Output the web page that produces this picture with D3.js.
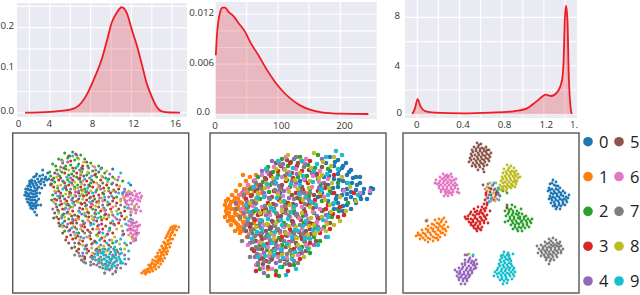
<!DOCTYPE html>
<html>
<head>
<meta charset="utf-8">
<script src="https://cdnjs.cloudflare.com/ajax/libs/d3/7.8.5/d3.min.js"></script>
<style>
body { margin: 0; background: #fff; }
svg { display: block; }
text { font-family: "Open Sans", sans-serif; fill: #333; }
</style>
</head>
<body>
<div id="chart"></div>
<script>
const classNames = ['0', '1', '2', '3', '4', '5', '6', '7', '8', '9'];
const classColors = ['#1f77b4', '#ff7f0e', '#2ca02c', '#d62728', '#9467bd', '#8c564b', '#e377c2', '#7f7f7f', '#bcbd22', '#17becf'];

// density curves
const curveAx = [1.57, 4.02, 6.01, 6.8, 7.61, 8.43, 9.08, 9.58, 10.07, 10.56, 11.05, 11.54, 12.03, 12.52, 13, 13.5, 13.99, 14.48, 14.97, 15.78, 16.76];
const curveAy = [0, 0.002, 0.007, 0.016, 0.042, 0.085, 0.125, 0.168, 0.212, 0.235, 0.248, 0.235, 0.196, 0.159, 0.116, 0.069, 0.038, 0.014, 0.003, 0.0005, 0];
const curveBx = [0.5, 2.1, 4.8, 7.5, 11.2, 15.5, 20.8, 28.8, 36.8, 47.5, 55.5, 68.8, 82.2, 95.5, 108.9, 122.2, 135.5, 151.5, 170.2, 199.6, 244.9];
const curveBy = [0.00707, 0.00928, 0.01129, 0.01229, 0.01281, 0.01281, 0.01229, 0.01177, 0.01096, 0.00988, 0.00868, 0.00707, 0.00534, 0.00386, 0.00265, 0.00173, 0.00104, 0.00052, 0.0002, 0.00004, 0];
const curveCx = [-0.048, -0.022, 0.003, 0.032, 0.073, 0.168, 0.437, 0.691, 0.913, 1.04, 1.135, 1.22, 1.268, 1.325, 1.372, 1.388, 1.398, 1.41, 1.423, 1.436, 1.452, 1.464];
const curveCy = [0.03, 0.49, 1.26, 0.63, 0.27, 0.14, 0.08, 0.14, 0.25, 0.49, 1.1, 1.62, 1.51, 1.81, 2.83, 4.75, 7.77, 8.96, 7.77, 3.1, 0.63, 0.03];

const gridAx = [2, 4, 6, 8, 10, 12, 14, 16];
const gridAy = [0, 0.05, 0.1, 0.15, 0.2, 0.25];
const gridBx = [50, 100, 150, 200];
const gridBy = [0, 0.002, 0.004, 0.006, 0.008, 0.01, 0.012];
const gridCx = [0, 0.2, 0.4, 0.6, 0.8, 1, 1.2, 1.4];
const gridCy = [0, 2, 4, 6, 8];

const ticksAx = [0, 4, 8, 12, 16];
const ticksAy = [0, 0.1, 0.2];
const ticksBx = [0, 100, 200];
const ticksBy = [0, 0.006, 0.012];
const ticksCx = [0, 0.4, 0.8, 1.2, 1.6];
const ticksCy = [0, 4, 8];
const labelsAx = ['0', '4', '8', '12', '16'];
const labelsAy = ['0.0', '0.1', '0.2'];
const labelsBx = ['0', '100', '200'];
const labelsBy = ['0.0', '0.006', '0.012'];
const labelsCx = ['0', '0.4', '0.8', '1.2', '1.'];
const labelsCy = ['0', '4', '8'];

// embedding points, left panel
const a0 = [[24,41],[27,43],[30,42],[33,44],[21,44],[25,46],[29,46],[34,47],[19,47],[22,48],[26,49],[31,49],[36,46],[17,50],[20,51],[24,52],[28,51],[15,53],[18,54],[22,55],[26,54],[13,56],[16,57],[20,58],[24,57],[14,60],[18,60],[22,61],[12,62],[16,63],[20,64],[24,63],[14,66],[18,67],[22,67],[15,69],[19,70],[23,70],[17,72],[21,73],[25,72],[20,76],[23,75],[18,75],[27,60],[29,55],[32,52],[26,66],[22,79],[28,72],[38,51],[24,82],[17,48],[35,40],[30,37],[110,60],[118,52],[100,36],[23,43],[28,48],[32,46],[19,49],[23,50],[17,52],[21,53],[25,55],[15,56],[18,57],[22,58],[13,59],[16,61],[20,61],[24,60],[14,63],[18,64],[22,64],[16,66],[20,67],[24,68],[17,70],[21,71],[19,73],[23,73]];
const a1 = [[129,140],[133,141],[137,139],[131,138],[135,136],[140,138],[138,134],[143,136],[141,131],[146,134],[136,132],[144,129],[148,131],[140,127],[146,126],[150,128],[143,124],[148,123],[152,125],[145,120],[150,119],[154,121],[147,117],[152,116],[155,118],[149,113],[153,112],[157,114],[151,109],[155,108],[158,110],[153,105],[157,104],[160,106],[155,101],[159,100],[162,102],[157,97],[161,96],[164,97],[159,94],[163,93],[166,94],[142,133],[147,128],[151,122],[154,115],[156,111],[158,106],[160,99],[149,126],[139,130],[134,139],[145,123],[153,119],[162,95],[132,140],[136,138],[139,136],[133,137],[137,135],[141,134],[143,132],[145,130],[138,132],[147,125],[142,128],[149,121],[145,127],[151,117],[148,119],[153,114],[150,115],[155,111],[152,110],[156,107],[154,103],[158,102],[156,99],[160,97],[158,95],[161,93]];
const a2 = [[52,20],[60,19],[68,22],[46,26],[55,25],[62,27],[72,26],[40,31],[50,30],[58,32],[66,31],[78,30],[86,33],[44,37],[53,36],[61,38],[70,36],[80,38],[92,40],[38,43],[47,43],[56,42],[64,44],[74,42],[84,44],[100,44],[42,49],[50,48],[59,50],[68,49],[78,50],[90,50],[110,48],[45,55],[54,57],[62,54],[72,56],[84,57],[96,55],[40,62],[50,63],[60,65],[70,62],[82,66],[104,64],[47,72],[58,74],[68,70],[80,76],[95,72],[44,84],[56,86],[70,88],[88,84],[108,80],[52,98],[66,100],[84,102],[62,114],[100,110],[57,23],[65,25],[49,27],[43,33],[53,33],[63,35],[75,33],[37,39],[49,39],[59,41],[69,39],[83,41],[41,45],[55,47],[67,46],[79,47],[93,45],[39,51],[53,53],[65,52],[77,53],[99,51],[43,59],[57,61],[73,59],[91,61],[39,67],[55,71],[73,73],[91,75],[51,81],[65,83],[83,81],[47,93],[77,99],[97,95]];
const a3 = [[58,28],[70,33],[52,40],[64,40],[82,42],[46,47],[60,47],[74,48],[88,47],[41,54],[56,52],[68,54],[80,54],[94,52],[106,56],[48,60],[58,60],[66,60],[76,60],[86,62],[98,60],[114,62],[44,67],[54,68],[64,68],[74,67],[84,69],[92,67],[104,70],[50,76],[60,78],[70,76],[78,74],[88,78],[98,76],[112,78],[46,86],[58,90],[66,84],[76,84],[84,88],[94,86],[106,90],[54,104],[62,94],[72,94],[80,96],[90,96],[100,100],[118,96],[60,106],[70,108],[78,106],[92,108],[66,116],[76,118],[84,116],[72,124],[108,116],[67,45],[81,49],[91,55],[53,55],[71,63],[63,63],[81,63],[101,65],[49,71],[69,71],[79,71],[97,71],[55,79],[75,79],[93,81],[109,83],[63,87],[71,91],[89,91],[101,91],[57,97],[75,97],[85,93],[95,101],[65,103],[83,109],[73,113],[89,105],[79,123],[111,101]];
const a4 = [[64,22],[48,34],[76,35],[90,44],[40,47],[58,45],[72,52],[100,50],[52,54],[66,58],[88,56],[112,56],[43,60],[56,64],[78,64],[96,64],[120,68],[48,68],[62,72],[74,72],[90,72],[108,72],[40,76],[54,80],[66,78],[82,80],[100,82],[118,82],[48,92],[60,86],[72,90],[86,92],[102,92],[120,90],[56,98],[68,104],[78,100],[94,102],[110,102],[124,100],[62,110],[74,112],[88,112],[104,108],[118,110],[70,120],[80,124],[90,120],[100,122],[112,122],[78,132],[86,130],[96,136],[108,130],[116,126],[92,140],[103,138],[55,29],[67,37],[83,37],[45,41],[61,43],[97,41],[51,49],[77,45],[105,47],[47,63],[63,59],[83,59],[103,59],[117,61],[43,71],[59,67],[87,65],[113,69],[49,85],[69,81],[93,77],[123,77],[55,91],[81,87],[107,87],[125,93],[61,99],[87,99],[115,97],[67,111],[97,107],[123,107],[83,117],[105,119],[93,131],[113,131]];
const a5 = [[56,23],[74,29],[42,40],[60,35],[86,39],[48,45],[66,46],[96,46],[38,52],[52,50],[76,52],[104,52],[46,58],[62,56],[74,62],[90,60],[42,66],[52,66],[66,66],[80,68],[100,68],[44,74],[56,72],[72,70],[86,74],[106,76],[42,80],[50,82],[62,82],[76,80],[92,82],[46,90],[54,94],[64,90],[78,90],[98,90],[112,86],[50,100],[58,102],[70,98],[86,100],[56,110],[66,110],[82,108],[96,112],[64,118],[74,116],[60,90],[52,88],[72,126],[63,21],[51,35],[69,35],[89,35],[39,47],[71,43],[87,53],[57,59],[69,57],[101,57],[47,65],[61,69],[77,65],[45,77],[67,75],[83,77],[41,85],[59,83],[73,83],[89,87],[51,93],[69,93],[93,93],[53,107],[63,105],[77,103],[59,115],[79,111],[69,127],[87,117]];
const a6 = [[112,58],[117,59],[122,58],[127,60],[110,62],[115,63],[120,62],[125,64],[129,63],[112,67],[117,67],[122,66],[127,68],[114,71],[119,71],[124,71],[116,75],[121,76],[126,74],[118,79],[123,80],[128,78],[116,88],[120,87],[124,89],[115,92],[119,92],[123,93],[127,92],[116,96],[120,97],[124,97],[118,100],[122,101],[126,100],[119,104],[123,105],[121,108],[50,28],[82,34],[62,62],[90,68],[76,88],[56,76],[100,74],[68,92],[96,98],[108,66],[106,44],[86,52],[114,60],[119,60],[124,61],[112,64],[118,65],[123,63],[128,65],[114,68],[120,68],[125,67],[116,72],[122,73],[118,76],[124,77],[118,89],[122,90],[117,93],[121,94],[125,94],[118,97],[122,98],[120,102],[124,102],[121,105],[70,48],[60,52],[80,72],[66,86],[86,96],[102,84],[92,78],[74,104]];
const a7 = [[66,120],[70,123],[74,120],[69,127],[73,130],[78,124],[82,121],[87,118],[92,116],[98,114],[104,117],[78,129],[83,127],[88,124],[93,122],[98,119],[103,122],[107,121],[84,132],[89,130],[94,128],[99,126],[104,127],[90,135],[95,133],[100,131],[105,132],[97,137],[103,139],[108,135],[92,140],[100,141],[60,88],[72,100],[88,106],[54,72],[68,42],[96,82],[80,110],[110,98],[46,78],[74,58],[114,112],[62,122],[85,120],[90,119],[95,117],[101,116],[80,126],[86,126],[91,126],[96,124],[101,124],[81,131],[87,128],[92,131],[97,130],[102,129],[87,134],[93,136],[99,135],[104,135],[67,123],[71,129],[52,76],[64,96],[82,84],[104,86],[86,68],[58,56],[76,40],[96,58],[112,74]];
const a8 = [[66,26],[80,33],[56,37],[68,40],[94,38],[44,44],[62,49],[84,50],[102,46],[48,52],[70,58],[92,58],[116,58],[42,58],[58,62],[78,58],[100,58],[52,70],[70,66],[86,70],[108,68],[122,74],[46,80],[60,74],[72,80],[90,76],[104,78],[52,84],[64,86],[80,86],[96,84],[114,84],[50,94],[68,96],[84,96],[104,96],[62,102],[76,104],[92,104],[116,102],[70,112],[86,114],[102,104],[80,120],[94,118],[112,116],[120,106],[88,128],[74,76],[62,56],[71,29],[47,37],[75,39],[89,43],[55,45],[69,51],[95,49],[45,53],[65,55],[85,55],[107,53],[53,61],[69,61],[89,65],[111,65],[41,69],[65,69],[83,73],[103,73],[57,81],[79,83],[99,79],[119,79],[61,93],[75,87],[91,85],[109,93],[67,107],[85,103],[99,107],[79,115],[91,113],[107,111]];
const a9 = [[60,23],[88,36],[54,44],[72,46],[108,40],[50,56],[80,60],[116,50],[92,64],[60,70],[106,60],[72,82],[86,80],[50,90],[100,88],[78,92],[118,86],[64,100],[90,100],[108,106],[72,116],[84,110],[94,110],[102,114],[112,110],[84,118],[90,116],[96,116],[102,118],[108,116],[116,118],[82,124],[88,120],[94,124],[100,124],[106,124],[112,126],[86,128],[92,126],[98,128],[104,128],[110,130],[90,132],[96,132],[102,133],[108,128],[94,136],[65,33],[79,43],[57,49],[95,47],[75,55],[45,63],[67,63],[99,63],[111,59],[53,75],[77,69],[95,69],[115,75],[49,83],[67,79],[85,85],[105,81],[59,95],[81,91],[113,91],[71,105],[97,97],[87,107],[103,109],[91,119],[97,121],[103,120],[109,120],[85,122],[91,122],[97,126],[103,125],[89,127],[95,129],[101,130],[107,126],[93,134],[99,133]];
const pointsA = [a0, a1, a2, a3, a4, a5, a6, a7, a8, a9];

// embedding points, middle panel
const b0 = [[120,24],[128,27],[136,30],[116,30],[124,33],[132,35],[141,37],[120,38],[128,41],[137,42],[146,44],[114,44],[124,46],[133,48],[142,50],[150,50],[118,52],[128,54],[137,56],[146,57],[154,56],[160,60],[163,56],[112,60],[122,60],[132,62],[141,64],[150,63],[157,66],[118,68],[128,70],[137,72],[146,70],[124,76],[133,78],[141,76],[120,80],[70,60],[90,48],[84,80],[100,70],[108,64],[60,96],[104,36],[110,54],[126,66],[136,66],[150,44],[125,29],[133,33],[129,37],[139,39],[143,45],[119,43],[129,47],[137,50],[147,52],[123,55],[133,57],[141,59],[153,60],[161,55],[127,63],[137,61],[145,67],[151,66],[123,71],[133,73],[129,78]];
const b1 = [[15,72],[16,78],[15,84],[18,66],[20,72],[19,80],[18,88],[22,62],[24,68],[24,76],[23,84],[21,92],[26,58],[28,66],[28,73],[27,82],[26,90],[25,98],[30,52],[32,60],[32,70],[31,78],[30,86],[30,94],[36,48],[36,56],[36,66],[36,76],[35,84],[34,92],[40,44],[42,54],[41,62],[40,72],[40,82],[46,42],[46,52],[46,66],[44,90],[30,100],[37,104],[48,122],[58,136],[70,100],[96,60],[76,72],[52,60],[16,68],[20,84],[33,42],[17,75],[17,81],[21,69],[21,76],[21,87],[25,65],[26,71],[25,80],[24,88],[29,62],[30,69],[29,76],[29,83],[28,92],[34,56],[34,64],[34,73],[33,81],[33,89],[38,52],[38,60],[38,70],[38,79],[37,88],[44,48],[44,58],[44,70],[43,80],[28,96],[32,98]];
const b2 = [[72,26],[90,24],[108,22],[58,34],[78,33],[98,32],[118,36],[48,44],[68,42],[88,44],[108,46],[128,50],[40,56],[60,52],[80,54],[100,56],[120,58],[138,70],[50,66],[70,64],[90,66],[112,68],[128,76],[44,78],[64,76],[84,78],[104,80],[122,84],[52,88],[74,90],[94,90],[114,94],[42,100],[62,100],[84,102],[104,104],[50,112],[72,112],[92,114],[110,108],[60,124],[82,122],[100,120],[50,136],[66,138],[72,134],[84,132],[58,143],[81,29],[63,39],[105,35],[53,49],[77,47],[97,43],[59,59],[89,57],[111,51],[45,71],[75,69],[99,63],[57,81],[93,83],[113,77],[47,93],[83,91],[105,95],[69,105],[95,109],[57,117],[77,127],[69,143]];
const b3 = [[80,30],[100,28],[68,38],[92,38],[124,42],[56,46],[76,48],[98,50],[144,60],[46,58],[64,58],[86,60],[108,58],[130,74],[36,66],[58,70],[78,70],[98,72],[116,76],[134,82],[48,82],[68,84],[88,84],[108,86],[40,94],[60,94],[80,96],[100,96],[120,96],[52,106],[72,104],[92,106],[110,100],[44,118],[64,116],[84,116],[100,110],[56,128],[74,126],[90,126],[46,138],[66,142],[78,138],[118,72],[128,84],[124,60],[71,33],[87,33],[61,43],[83,45],[107,41],[51,53],[71,55],[93,57],[115,55],[41,63],[69,67],[91,69],[105,67],[53,77],[73,79],[95,79],[123,81],[45,87],[63,89],[83,89],[103,91],[47,101],[67,97],[89,99],[57,111],[79,109],[97,113],[69,121],[53,125]];
const b4 = [[62,28],[84,26],[112,26],[52,38],[74,36],[102,40],[44,48],[64,48],[86,50],[114,50],[34,58],[54,60],[74,58],[94,60],[26,70],[46,70],[66,72],[86,72],[106,74],[34,80],[56,82],[76,80],[96,82],[116,82],[38,90],[64,92],[84,92],[106,92],[48,100],[70,98],[94,100],[116,104],[40,110],[60,110],[82,108],[104,112],[54,120],[72,120],[92,120],[48,130],[66,130],[84,128],[54,140],[73,31],[95,31],[59,41],[87,41],[49,55],[69,53],[91,55],[109,55],[37,69],[59,65],[79,65],[99,67],[41,79],[67,81],[87,81],[107,83],[49,93],[73,93],[97,91],[55,105],[77,103],[99,105],[47,115],[67,115],[87,113],[61,127],[79,131],[45,124]];
const b5 = [[66,30],[88,30],[112,34],[60,40],[82,40],[106,42],[50,52],[72,52],[92,54],[116,52],[42,62],[62,64],[82,62],[104,62],[38,74],[56,76],[76,76],[94,76],[112,78],[44,86],[62,88],[82,88],[100,90],[120,90],[36,98],[56,98],[76,102],[96,98],[46,108],[66,108],[86,110],[106,108],[52,116],[76,114],[96,118],[62,126],[80,132],[50,126],[42,116],[58,134],[77,27],[99,37],[55,45],[75,43],[95,47],[47,57],[67,59],[87,65],[111,63],[43,69],[63,71],[83,71],[103,75],[51,81],[71,83],[91,87],[109,85],[41,91],[61,95],[81,99],[101,101],[51,103],[71,107],[91,103],[57,113],[81,117],[67,121],[89,121],[53,131]];
const b6 = [[76,24],[96,26],[64,34],[86,36],[110,38],[52,42],[72,44],[94,46],[118,46],[38,52],[58,54],[78,56],[102,54],[134,58],[30,62],[48,62],[68,60],[90,62],[114,64],[32,76],[52,74],[72,74],[92,74],[110,76],[40,84],[60,82],[80,84],[98,86],[116,88],[34,94],[54,92],[74,94],[92,96],[112,96],[44,104],[64,102],[86,104],[104,100],[38,112],[58,114],[78,110],[96,112],[50,122],[68,124],[88,122],[46,132],[62,136],[150,60],[160,58],[69,29],[93,29],[57,39],[79,39],[103,43],[45,47],[65,51],[85,53],[109,49],[35,59],[55,63],[73,63],[95,65],[43,73],[63,77],[83,75],[103,79],[49,87],[69,87],[89,85],[107,89],[39,101],[59,105],[79,101],[97,103],[49,109],[69,113],[89,115],[59,123],[77,125],[53,135]];
const b7 = [[86,24],[70,32],[94,34],[46,50],[62,50],[82,48],[34,62],[52,56],[70,56],[100,60],[26,76],[42,68],[60,66],[84,66],[104,70],[30,84],[48,78],[66,80],[86,82],[34,96],[50,90],[68,88],[90,92],[108,94],[38,104],[56,104],[74,108],[94,108],[32,108],[46,114],[62,118],[80,118],[40,124],[54,128],[70,128],[88,130],[48,116],[60,108],[36,92],[44,96],[52,100],[68,96],[76,92],[84,100],[66,112],[58,92],[48,132],[57,37],[77,41],[43,55],[65,57],[91,59],[37,75],[55,73],[75,73],[95,71],[41,83],[59,79],[79,83],[41,97],[57,101],[75,99],[93,101],[45,103],[63,107],[83,107],[53,113],[71,117],[91,117],[47,121],[63,123],[77,121],[59,129],[75,131],[43,109],[51,95],[65,93]];
const b8 = [[78,22],[104,20],[124,24],[66,36],[90,40],[112,42],[132,44],[56,50],[76,46],[100,48],[122,50],[140,54],[48,60],[68,62],[88,56],[110,60],[130,64],[146,68],[40,70],[60,72],[80,72],[100,74],[120,72],[136,78],[50,80],[72,78],[92,80],[112,84],[130,88],[46,94],[66,90],[86,94],[104,92],[124,92],[52,110],[76,100],[98,102],[116,98],[64,106],[88,112],[108,98],[72,122],[94,124],[60,120],[91,27],[113,29],[75,37],[101,35],[121,33],[63,45],[85,47],[109,45],[55,55],[79,59],[99,55],[119,55],[47,67],[71,69],[93,67],[115,67],[55,79],[79,79],[101,85],[121,79],[57,91],[79,93],[99,93],[117,91],[61,101],[87,105],[105,101],[79,113],[99,115],[83,123]];
const b9 = [[68,28],[92,28],[116,24],[126,18],[132,22],[56,36],[80,42],[104,38],[128,36],[44,54],[66,50],[90,52],[112,56],[138,50],[36,72],[54,64],[74,68],[96,64],[118,62],[148,62],[46,76],[64,78],[84,74],[106,72],[124,70],[38,86],[58,86],[78,86],[96,88],[118,84],[52,96],[72,92],[88,98],[108,96],[42,106],[62,110],[82,104],[100,106],[118,104],[54,112],[72,116],[90,116],[108,112],[48,124],[64,122],[82,126],[98,116],[70,134],[86,136],[76,142],[83,35],[107,31],[67,45],[93,43],[117,41],[57,51],[81,51],[103,49],[47,65],[67,65],[89,61],[111,57],[39,79],[61,75],[81,79],[101,69],[51,87],[71,87],[93,93],[113,87],[47,99],[65,99],[85,97],[103,97],[59,103],[77,111],[95,105],[65,117],[85,119],[55,123],[73,125]];
const pointsB = [b0, b1, b2, b3, b4, b5, b6, b7, b8, b9];

// embedding points, right panel
const c0 = [[150,47],[153,49],[147,51],[151,52],[155,53],[146,55],[149,56],[153,56],[157,55],[160,58],[145,58],[148,60],[152,60],[156,59],[162,60],[147,63],[150,64],[154,63],[158,62],[163,64],[146,66],[149,67],[153,67],[157,66],[161,66],[165,65],[148,70],[152,71],[156,70],[160,69],[164,69],[150,73],[154,74],[158,73],[162,72],[153,76],[157,76],[166,62],[149,50],[153,53],[147,57],[151,58],[155,57],[150,61],[154,61],[158,60],[148,65],[152,65],[156,64],[160,63],[151,69],[155,68],[159,67],[163,67],[152,73],[156,72],[160,71]];
const c1 = [[41,85],[36,86],[32,87],[43,89],[38,89],[34,90],[29,91],[25,93],[41,92],[37,93],[33,94],[28,95],[23,96],[19,97],[45,94],[40,96],[35,97],[30,98],[25,99],[20,100],[15,100],[13,103],[18,103],[23,103],[28,102],[33,101],[38,100],[43,98],[17,106],[22,107],[27,106],[32,105],[37,104],[42,102],[25,109],[30,108],[35,107],[24,88],[39,87],[36,91],[31,92],[39,94],[35,95],[30,96],[25,97],[42,96],[37,98],[32,99],[27,100],[22,101],[17,102],[40,100],[35,102],[30,104],[25,105],[20,105],[15,102],[34,105]];
const c2 = [[104,74],[108,76],[112,74],[106,79],[110,80],[114,78],[118,76],[103,83],[107,84],[111,84],[115,82],[119,81],[123,83],[105,88],[109,88],[113,88],[117,86],[121,86],[125,86],[129,86],[108,92],[112,92],[116,91],[120,91],[124,90],[128,90],[110,96],[114,96],[118,95],[122,95],[126,94],[115,98],[119,98],[102,78],[102,89],[109,72],[106,77],[110,78],[116,80],[105,81],[109,82],[113,81],[117,84],[121,84],[107,86],[111,86],[115,85],[119,88],[123,88],[127,88],[110,90],[114,90],[118,89],[112,94],[116,94],[120,93],[124,92]];
const c3 = [[83,62],[85,65],[82,67],[86,69],[81,71],[84,72],[79,74],[75,74],[71,76],[83,75],[78,77],[74,78],[68,79],[82,78],[79,80],[74,81],[70,82],[65,83],[63,86],[68,86],[72,85],[77,84],[81,83],[84,82],[66,89],[70,89],[75,88],[79,87],[83,86],[68,92],[72,92],[77,91],[81,90],[71,95],[75,95],[79,94],[74,98],[78,97],[62,84],[87,78],[85,90],[84,70],[81,76],[77,79],[72,79],[67,81],[72,83],[76,81],[80,81],[65,86],[70,87],[74,86],[78,85],[82,84],[68,90],[73,90],[77,89],[81,88],[70,93],[75,93],[73,96],[77,96]];
const c4 = [[64,122],[67,125],[70,123],[62,127],[65,129],[69,128],[73,127],[59,131],[62,132],[66,133],[70,132],[74,131],[56,135],[59,136],[63,137],[67,137],[71,136],[54,139],[57,140],[61,141],[65,141],[69,140],[73,135],[54,143],[58,144],[62,145],[66,144],[56,147],[60,148],[64,148],[58,151],[62,151],[52,137],[71,129],[66,127],[62,130],[68,130],[71,131],[60,134],[64,135],[68,135],[72,133],[57,138],[61,139],[65,139],[69,138],[56,141],[59,142],[63,143],[67,142],[60,146],[64,146],[56,145]];
const c5 = [[74,10],[78,11],[71,14],[75,14],[79,15],[83,14],[69,17],[73,18],[77,18],[81,18],[86,17],[68,21],[72,22],[76,22],[80,22],[84,21],[88,20],[67,25],[71,26],[75,26],[79,26],[83,25],[87,24],[66,29],[70,30],[74,30],[78,30],[82,29],[86,28],[69,33],[73,34],[77,34],[81,33],[84,32],[75,37],[80,36],[81,39],[76,12],[73,16],[77,16],[81,16],[84,17],[70,19],[75,20],[79,20],[83,19],[69,23],[74,24],[78,24],[82,23],[86,22],[68,27],[73,28],[77,28],[81,27],[85,26],[72,32],[76,32],[80,31]];
const c6 = [[40,41],[44,42],[48,41],[37,44],[41,45],[45,45],[49,44],[53,46],[33,47],[37,48],[41,48],[45,49],[49,48],[52,50],[34,51],[38,52],[42,52],[46,52],[50,52],[54,52],[36,55],[40,56],[44,56],[48,56],[52,55],[55,56],[38,59],[42,59],[46,60],[50,59],[54,59],[41,63],[45,63],[49,62],[43,61],[32,50],[56,60],[42,43],[46,43],[39,46],[43,47],[47,47],[51,47],[36,50],[40,50],[44,50],[48,50],[36,53],[40,54],[44,54],[48,54],[52,53],[38,57],[42,57],[46,58],[50,57],[44,59],[48,60]];
const c7 = [[146,106],[150,105],[153,107],[142,109],[146,110],[150,110],[154,110],[157,109],[138,112],[142,113],[146,114],[150,113],[154,113],[158,113],[136,116],[140,116],[144,117],[148,117],[152,117],[156,116],[160,116],[135,120],[139,120],[143,120],[147,121],[151,120],[155,120],[158,120],[138,123],[142,124],[146,124],[150,124],[154,124],[143,127],[147,128],[151,127],[146,131],[134,113],[148,108],[144,111],[148,112],[152,112],[156,111],[140,114],[144,115],[148,115],[152,115],[156,114],[138,118],[142,118],[146,119],[150,119],[154,118],[158,118],[141,122],[145,122],[149,122],[153,122],[144,125],[148,126]];
const c8 = [[104,32],[108,33],[111,35],[101,36],[105,37],[109,38],[113,38],[100,40],[104,41],[108,41],[112,41],[115,41],[99,44],[103,45],[107,45],[111,45],[115,45],[117,44],[98,48],[102,49],[106,49],[110,49],[114,48],[97,52],[101,53],[105,53],[109,52],[113,51],[96,55],[100,56],[104,56],[108,55],[112,54],[93,50],[98,57],[106,35],[103,39],[107,39],[111,39],[102,43],[106,43],[110,43],[113,43],[100,46],[104,47],[108,47],[112,47],[100,50],[104,51],[108,51],[112,49],[99,54],[103,54],[107,54],[110,53],[103,58]];
const c9 = [[101,119],[105,120],[98,123],[102,124],[106,124],[97,127],[101,128],[105,127],[108,128],[96,131],[100,132],[104,132],[108,131],[95,135],[99,136],[103,136],[107,135],[111,135],[92,139],[96,140],[100,140],[104,140],[108,139],[112,139],[91,143],[95,144],[99,144],[103,144],[107,143],[111,143],[97,147],[101,148],[105,147],[109,146],[100,151],[104,150],[110,121],[100,122],[104,122],[99,125],[103,126],[107,126],[98,129],[102,130],[106,130],[97,133],[101,134],[105,134],[109,133],[94,137],[98,138],[102,138],[106,137],[110,137],[94,141],[98,142],[102,142],[106,141],[110,141],[99,146],[103,146]];
// small mixed knot between the clusters, and its few strays
const cKnot0 = [[90,52],[95,60],[88,62]];
const cKnot1 = [[84,58],[92,64],[24,87]];
const cKnot2 = [[86,55],[94,58],[104,60],[97,63],[104,72]];
const cKnot3 = [[88,56],[83,60],[93,60],[91,67],[104,75]];
const cKnot4 = [[85,51],[92,56],[89,65],[96,62],[23,88],[62,122]];
const cKnot5 = [[80,52],[87,59],[93,62],[100,56]];
const cKnot6 = [[82,56],[89,53],[94,66],[88,68],[44,44]];
const cKnot7 = [[86,62],[91,57],[96,56],[84,65],[140,116],[100,58]];
const cKnot8 = [[87,50],[90,60],[84,54],[92,68],[66,121],[100,122]];
const cKnot9 = [[91,50],[88,66],[95,55],[86,69],[96,67],[70,122],[106,122]];
const pointsC = [c0.concat(cKnot0), c1.concat(cKnot1), c2.concat(cKnot2), c3.concat(cKnot3), c4.concat(cKnot4), c5.concat(cKnot5), c6.concat(cKnot6), c7.concat(cKnot7), c8.concat(cKnot8), c9.concat(cKnot9)];

const width = 640;
const height = 295;
const fontSize = 9.7;

const svg = d3.select('#chart')
    .append('svg')
    .attr('width', width)
    .attr('height', height);

function drawDensity(p) {
    const x = d3.scaleLinear().domain(p.xDomain).range([p.left, p.right]);
    const y = d3.scaleLinear().domain(p.yDomain).range([p.bottom, p.top]);
    const g = svg.append('g');

    g.append('rect')
        .attr('x', p.left)
        .attr('y', p.top)
        .attr('width', p.right - p.left)
        .attr('height', p.bottom - p.top)
        .style('fill', '#eaeaf2');

    g.selectAll('.gx').data(p.gridX).enter().append('line')
        .attr('x1', d => x(d)).attr('x2', d => x(d))
        .attr('y1', p.top).attr('y2', p.bottom)
        .style('stroke', '#fff').style('stroke-width', 1.1);
    g.selectAll('.gy').data(p.gridY).enter().append('line')
        .attr('x1', p.left).attr('x2', p.right)
        .attr('y1', d => y(d)).attr('y2', d => y(d))
        .style('stroke', '#fff').style('stroke-width', 1.1);

    const rows = p.xs.map((d, i) => [d, p.ys[i]]);
    const area = d3.area().x(d => x(d[0])).y0(y(0)).y1(d => y(d[1])).curve(d3.curveMonotoneX);
    const line = d3.line().x(d => x(d[0])).y(d => y(d[1])).curve(d3.curveMonotoneX);

    g.append('path').attr('d', area(rows)).style('fill', '#e2222a').style('fill-opacity', 0.25);
    g.append('path').attr('d', line(rows))
        .style('fill', 'none').style('stroke', '#ee1c25').style('stroke-width', 1.8);

    const xAxis = d3.axisBottom(x).tickValues(p.ticksX).tickSize(0).tickPadding(3)
        .tickFormat((d, i) => p.labelsX[i]);
    const yAxis = d3.axisLeft(y).tickValues(p.ticksY).tickSize(0).tickPadding(p.padY)
        .tickFormat((d, i) => p.labelsY[i]);

    const ax = g.append('g').attr('transform', `translate(0, ${p.bottom})`).call(xAxis);
    const ay = g.append('g').attr('transform', `translate(${p.left}, 0)`).call(yAxis);
    ax.select('.domain').remove();
    ay.select('.domain').remove();
    // the labels were hand placed in the figure, so they sit a little off their ticks
    ax.selectAll('.tick text')
        .style('font-size', fontSize + 'px')
        .style('font-family', '"Open Sans", sans-serif')
        .style('fill', '#333')
        .attr('transform', (d, i) => `translate(${p.nudgeX[i]}, 0)`);
    ay.selectAll('.tick text')
        .style('font-size', fontSize + 'px')
        .style('font-family', '"Open Sans", sans-serif')
        .style('fill', '#333')
        .attr('transform', (d, i) => `translate(${p.nudgeY[i][0]}, ${p.nudgeY[i][1]})`);
}

drawDensity({
    xs: curveAx, ys: curveAy, gridX: gridAx, gridY: gridAy,
    ticksX: ticksAx, ticksY: ticksAy, labelsX: labelsAx, labelsY: labelsAy,
    xDomain: [0.78, 17.45], yDomain: [-0.0101, 0.258],
    left: 17, right: 187, top: 3, bottom: 117, padY: 3,
    nudgeX: [9, -1, 1.4, 1.6, 2.8],
    nudgeY: [[0, -2.7], [0, -4], [0, -2.7]]
});
drawDensity({
    xs: curveBx, ys: curveBy, gridX: gridBx, gridY: gridBy,
    ticksX: ticksBx, ticksY: ticksBy, labelsX: labelsBx, labelsY: labelsBy,
    xDomain: [0, 258.3], yDomain: [-0.0006, 0.01348],
    left: 215.5, right: 376.7, top: 2, bottom: 119, padY: 1.5,
    nudgeX: [-1, 3, 3.7],
    nudgeY: [[-4, -3], [0, -2], [0, -2.3]]
});
drawDensity({
    xs: curveCx, ys: curveCy, gridX: gridCx, gridY: gridCy,
    ticksX: ticksCx, ticksY: ticksCy, labelsX: labelsCx, labelsY: labelsCy,
    xDomain: [-0.1166, 1.5137], yDomain: [-0.305, 9.43],
    left: 405, right: 577, top: 0, bottom: 118, padY: 5,
    nudgeX: [-1, 3, 2.3, 1.8, -12.5],
    nudgeY: [[2, -1.6], [0, -0.7], [0, -2.3]]
});

function drawEmbedding(points, left, radius) {
    const x = d3.scaleLinear().domain([0, 176]).range([left, left + 176]);
    const y = d3.scaleLinear().domain([0, 160]).range([133, 293]);
    const g = svg.append('g');

    g.append('rect')
        .attr('x', left)
        .attr('y', 133)
        .attr('width', 176)
        .attr('height', 160)
        .style('fill', '#fff')
        .style('stroke', '#555')
        .style('stroke-width', 1.4);

    points.forEach((cls, i) => {
        g.selectAll(`.c${i}`)
            .data(cls)
            .enter()
            .append('circle')
            .attr('class', `c${i}`)
            .attr('cx', d => x(d[0]))
            .attr('cy', d => y(d[1]))
            .attr('r', radius)
            .style('fill', classColors[i]);
    });
}

drawEmbedding(pointsA, 12.7, 1.5);
drawEmbedding(pointsB, 210, 2.3);
drawEmbedding(pointsC, 403, 1.4);

// legend, two columns of five
const legendX = d3.scalePoint().domain([0, 1]).range([588, 619]);
const legendY = d3.scalePoint().domain([0, 1, 2, 3, 4]).range([141.7, 281]);

const legend = svg.selectAll('.legend-item')
    .data(classNames)
    .enter()
    .append('g')
    .attr('class', 'legend-item')
    .attr('transform', (d, i) => `translate(${legendX(Math.floor(i / 5))}, ${legendY(i % 5)})`);

legend.append('circle')
    .attr('r', 4.8)
    .style('fill', (d, i) => classColors[i]);

legend.append('text')
    .attr('x', 11)
    .attr('y', 6)
    .style('font-size', '16.5px')
    .style('fill', '#222')
    .text(d => d);
</script>
</body>
</html>
